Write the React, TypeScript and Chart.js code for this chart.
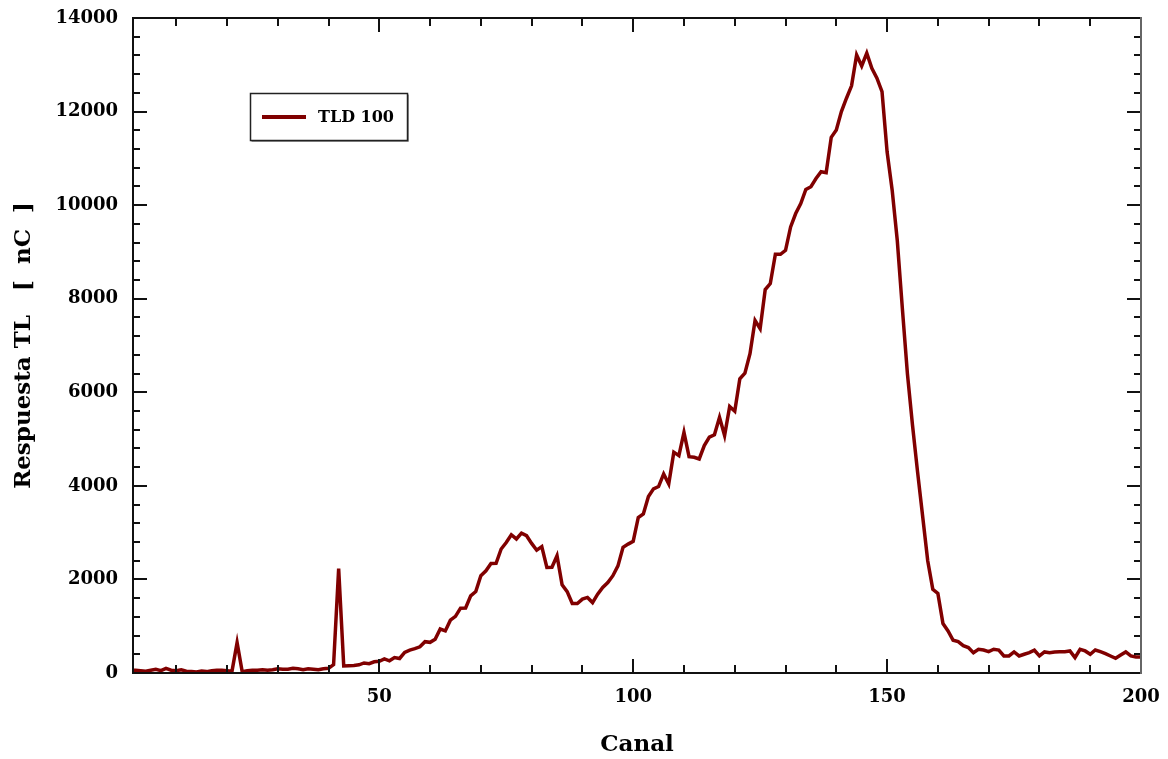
import React, { useEffect, useRef } from "react";
import { Chart, registerables } from "chart.js";

Chart.register(...registerables);

// Respuesta TL (nC) per canal, starting at canal 1
const respuesta: number[] = [
  60, 60, 50, 40, 60, 80, 50, 100, 60, 50,
  70, 40, 30, 20, 40, 30, 50, 60, 60, 50,
  40, 650, 30, 50, 60, 60, 70, 60, 70, 90,
  80, 80, 100, 90, 70, 90, 80, 70, 90, 100,
  180, 2230, 150, 155, 160, 175, 215, 200, 240, 250,
  300, 260, 330, 310, 440, 490, 520, 560, 670, 655,
  720, 940, 900, 1130, 1210, 1385, 1390, 1650, 1740, 2080,
  2185, 2340, 2345, 2650, 2790, 2955, 2865, 2990, 2935, 2770,
  2625, 2700, 2255, 2260, 2505, 1885, 1740, 1485, 1485, 1580,
  1615, 1505, 1685, 1830, 1935, 2080, 2290, 2685, 2755, 2815,
  3325, 3400, 3770, 3935, 3985, 4255, 4040, 4720, 4645, 5145,
  4625, 4610, 4575, 4860, 5040, 5090, 5465, 5075, 5695, 5595,
  6290, 6410, 6825, 7535, 7360, 8195, 8325, 8950, 8950, 9035,
  9535, 9820, 10035, 10335, 10395, 10570, 10715, 10695, 11450, 11605,
  12000, 12285, 12550, 13210, 12975, 13250, 12925, 12715, 12425, 11140,
  10320, 9250, 7800, 6400, 5300, 4300, 3350, 2400, 1790, 1700,
  1056, 900, 700, 670, 585, 543, 435, 507, 490, 456,
  507, 490, 364, 364, 450, 364, 400, 435, 486, 364,
  450, 435, 450, 456, 456, 471, 328, 507, 471, 400,
  492, 456, 414, 364, 314, 385, 450, 364, 343, 343,
];
const canales: number[] = respuesta.map((_, i) => i + 1);

const seriesLabel = "TLD 100";
const xMajorTicks = [50, 100, 150, 200];
const xMinorTicks = [10, 20, 30, 40, 60, 70, 80, 90, 110, 120, 130, 140, 160, 170, 180, 190];
const yMajorTicks = [0, 2000, 4000, 6000, 8000, 10000, 12000, 14000];
const yMinorStep = 400;
const xMin = 1.5;
const xMax = 200;
const yMin = 0;
const yMax = 14000;

const FONT = "'DejaVu Serif', serif";
const LINE_COLOR = "#800000";

const framePlugin = {
  id: "frameTicks",
  afterDraw(chart: any) {
    const { ctx, chartArea, scales } = chart;
    const { left, right, top, bottom } = chartArea;
    const x = scales.x;
    const y = scales.y;
    ctx.save();
    ctx.lineCap = "butt";
    ctx.lineWidth = 2;
    ctx.strokeStyle = "#111";
    const xt = [...xMajorTicks.map((v) => [v, 14]), ...xMinorTicks.map((v) => [v, 8])];
    for (const [v, len] of xt) {
      const p = Math.round(x.getPixelForValue(v));
      if (p <= left + 1 || p >= right - 1) continue;
      ctx.beginPath();
      ctx.moveTo(p, bottom);
      ctx.lineTo(p, bottom - len);
      ctx.moveTo(p, top);
      ctx.lineTo(p, top + len);
      ctx.stroke();
    }
    for (let v = yMin; v <= yMax; v += yMinorStep) {
      const len = yMajorTicks.includes(v) ? 14 : 7;
      const p = Math.round(y.getPixelForValue(v));
      if (p <= top + 1 || p >= bottom - 1) continue;
      ctx.beginPath();
      ctx.moveTo(left, p);
      ctx.lineTo(left + len, p);
      ctx.moveTo(right, p);
      ctx.lineTo(right - len, p);
      ctx.stroke();
    }
    ctx.strokeStyle = "#111";
    ctx.beginPath();
    ctx.moveTo(left, top);
    ctx.lineTo(right, top);
    ctx.moveTo(left, top - 1);
    ctx.lineTo(left, bottom + 1);
    ctx.moveTo(left - 1, bottom);
    ctx.lineTo(right + 1, bottom);
    ctx.stroke();
    ctx.strokeStyle = "#666";
    ctx.beginPath();
    ctx.moveTo(right, top - 1);
    ctx.lineTo(right, bottom + 1);
    ctx.stroke();

    // legend
    const ds = chart.data.datasets[0];
    const bx = 250, by = 93, bw = 157, bh = 47;
    ctx.fillStyle = "#fff";
    ctx.fillRect(bx, by, bw, bh);
    ctx.strokeStyle = "#999";
    ctx.lineWidth = 1;
    ctx.beginPath();
    ctx.moveTo(bx + 1.5, by + bh + 1.5);
    ctx.lineTo(bx + bw + 1.5, by + bh + 1.5);
    ctx.lineTo(bx + bw + 1.5, by + 1.5);
    ctx.stroke();
    ctx.strokeStyle = "#222";
    ctx.lineWidth = 1.5;
    ctx.strokeRect(bx + 0.5, by + 0.5, bw, bh);
    ctx.strokeStyle = ds.borderColor;
    ctx.lineWidth = 4;
    ctx.beginPath();
    ctx.moveTo(262, 117);
    ctx.lineTo(306, 117);
    ctx.stroke();
    ctx.fillStyle = "#000";
    ctx.font = `bold 16px ${FONT}`;
    ctx.textBaseline = "middle";
    ctx.textAlign = "left";
    ctx.fillText(ds.label, 318, 118);
    ctx.restore();
  },
};

export default function App() {
  const ref = useRef<HTMLCanvasElement | null>(null);
  useEffect(() => {
    if (!ref.current) return;
    const chart = new Chart(ref.current, {
      type: "line",
      data: {
        datasets: [
          {
            label: seriesLabel,
            data: canales.map((c, i) => ({ x: c, y: respuesta[i] })),
            borderColor: LINE_COLOR,
            backgroundColor: LINE_COLOR,
            borderWidth: 3.5,
            pointRadius: 0,
            tension: 0,
            clip: 0,
          } as any,
        ],
      },
      options: {
        animation: false,
        responsive: false,
        devicePixelRatio: 1,
        layout: { padding: { top: 18, right: 27, left: 0, bottom: 0 } },
        plugins: { legend: { display: false }, tooltip: { enabled: false } },
        scales: {
          x: {
            type: "linear",
            min: xMin,
            max: xMax,
            grid: { display: false, drawTicks: false },
            border: { display: false },
            afterBuildTicks(scale: any) {
              scale.ticks = xMajorTicks.map((v) => ({ value: v }));
            },
            ticks: {
              padding: 14,
              color: "#000",
              font: { family: FONT, weight: "bold", size: 18 },
              maxRotation: 0,
              autoSkip: false,
              callback: (v: any) => String(v),
            },
            title: {
              display: true,
              text: "Canal",
              color: "#000",
              font: { family: FONT, weight: "bold", size: 23 },
              padding: { top: 0, bottom: 0 },
            },
            afterFit(scale: any) {
              scale.height = 86;
              scale.paddingLeft = 0;
              scale.paddingRight = 0;
            },
          },
          y: {
            type: "linear",
            min: yMin,
            max: yMax,
            grid: { display: false, drawTicks: false },
            border: { display: false },
            afterBuildTicks(scale: any) {
              scale.ticks = yMajorTicks.map((v) => ({ value: v }));
            },
            ticks: {
              padding: 15,
              color: "#000",
              font: { family: FONT, weight: "bold", size: 18 },
              autoSkip: false,
              callback: (v: any) => String(v),
            },
            title: {
              display: true,
              text: "Respuesta TL   [  nC  ]",
              color: "#000",
              font: { family: FONT, weight: "bold", size: 23 },
              padding: { top: 10, bottom: 0 },
            },
            afterFit(scale: any) {
              scale.width = 133;
              scale.paddingTop = 0;
              scale.paddingBottom = 0;
            },
          },
        },
      },
      plugins: [framePlugin],
    });
    return () => chart.destroy();
  }, []);
  return (
    <div style={{ position: "fixed", left: 0, top: 0, width: 1168, height: 759, background: "#fff" }}>
      <canvas ref={ref} width={1168} height={759} style={{ width: 1168, height: 759, display: "block" }} />
    </div>
  );
}
